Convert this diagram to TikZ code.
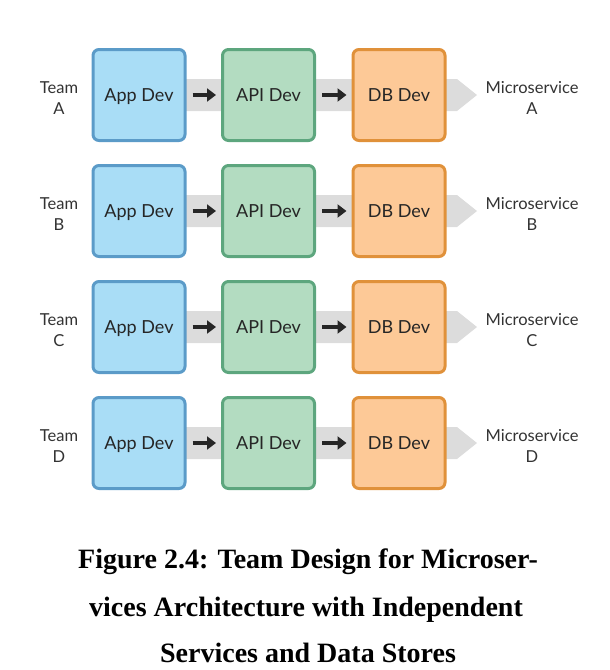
\documentclass[tikz,border=0pt]{standalone}
\usepackage{fontspec}
\setmainfont{Liberation Serif}
\newfontfamily\lbl{Lato}
\usetikzlibrary{arrows.meta}
\definecolor{appfill}{HTML}{A9DDF6}
\definecolor{appline}{HTML}{5B9BC8}
\definecolor{apifill}{HTML}{B3DCC1}
\definecolor{apiline}{HTML}{5DA67E}
\definecolor{dbfill}{HTML}{FDC997}
\definecolor{dbline}{HTML}{E0913A}
\definecolor{band}{HTML}{DCDCDC}
\tikzset{
  devbox/.style={rounded corners=6pt, line width=3pt, minimum width=92pt, minimum height=91pt, text depth=0pt, font=\lbl\fontsize{18}{20}\selectfont, text=black!85},
  appbox/.style={devbox, draw=appline, fill=appfill},
  apibox/.style={devbox, draw=apiline, fill=apifill},
  dbbox/.style={devbox, draw=dbline, fill=dbfill},
  sidelbl/.style={font=\lbl\fontsize{16.5}{21}\selectfont, align=center, text=black!80},
  flow/.style={line width=4pt, -{Triangle[length=9pt,width=13pt]}, black!85},
  captxt/.style={font=\bfseries\fontsize{28}{30}\selectfont, anchor=base}
}
\begin{document}
\begin{tikzpicture}[x=1pt,y=-1pt]
\useasboundingbox (0,0) rectangle (610,670);
\foreach \r/\y in {A/95,B/211,C/327,D/443}{
  \fill[band] (186,\y-16) -- (457,\y-16) -- (477,\y) -- (457,\y+16) -- (186,\y+16) -- cycle;
  \node[appbox] (app\r) at (139,\y) {App Dev};
  \node[apibox] (api\r) at (268.5,\y) {API Dev};
  \node[dbbox] (db\r) at (399,\y) {DB Dev};
  \node[sidelbl] (team\r) at (59,\y+3) {Team\\\r};
  \node[sidelbl] (ms\r) at (532,\y+3) {Microservice\\\r};
  \draw[flow] ([xshift=6pt]app\r.east) -- ([xshift=-5pt]api\r.west);
  \draw[flow] ([xshift=6pt]api\r.east) -- ([xshift=-5pt]db\r.west);
}
\node[captxt] (c1) at (308,568) {Figure 2.4: Team Design for Microser-};
\node[captxt] (c2) at (306,616) {vices Architecture with Independent};
\node[captxt] (c3) at (308,662) {Services and Data Stores};
\end{tikzpicture}
\end{document}
